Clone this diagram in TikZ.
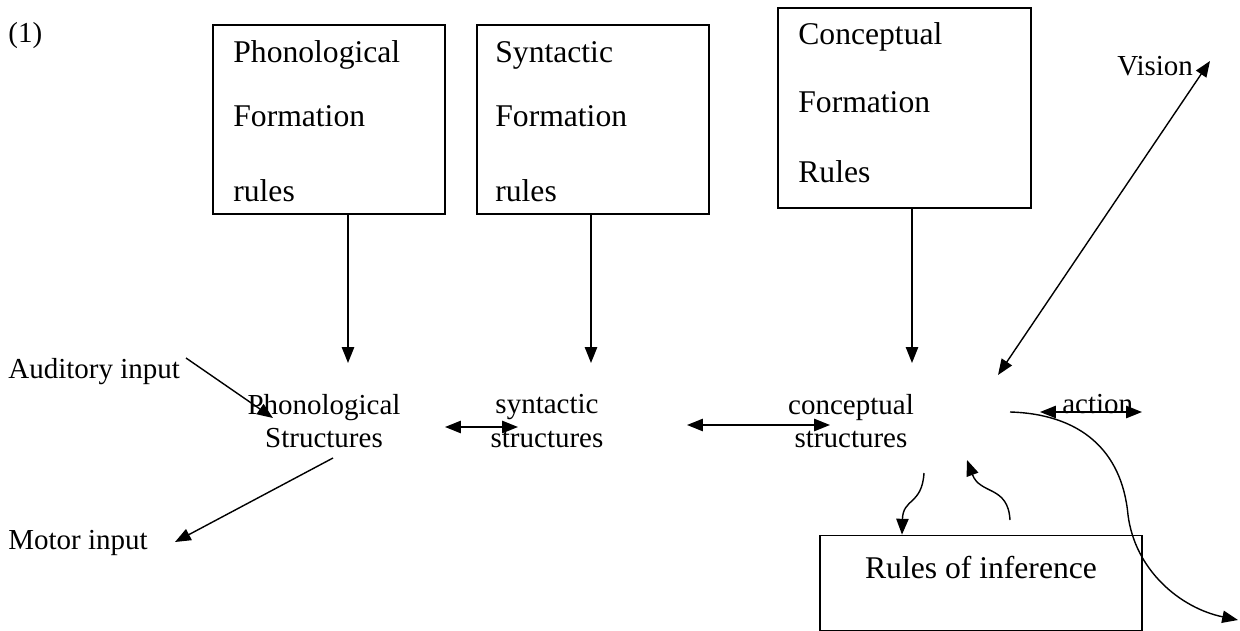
\documentclass[tikz,border=0pt]{standalone}
\usepackage{fontspec}
\setmainfont{Liberation Serif}
\usetikzlibrary{arrows.meta}

\begin{document}
\begin{tikzpicture}[x=0.02cm,y=-0.02cm]
  \tikzstyle{lbl}=[inner sep=0pt,font=\fontsize{16.5}{19}\selectfont]
  \tikzstyle{big}=[inner sep=0pt,font=\fontsize{18}{21}\selectfont]
  \tikzstyle{box}=[draw,line width=1pt,inner sep=0pt]
  \tikzstyle{arr}=[line width=0.8pt,-{Triangle[length=9pt,width=7pt]}]
  \tikzstyle{darr}=[line width=0.8pt,{Triangle[length=9pt,width=7pt]}-{Triangle[length=9pt,width=7pt]}]
  \useasboundingbox (0,0) rectangle (1240,631);

  \node[lbl,anchor=mid west] (num) at (8,38) {(1)};

  % formation rule boxes
  \foreach \name/\x/\y/\w/\h in {pfr/212/24/4.64/3.78, sfr/476/24/4.64/3.78, cfr/777/7/5.06/4.0}
    \node[box,anchor=north west,minimum width=\w cm,minimum height=\h cm] (\name) at (\x,\y) {};
  \foreach \txt/\x/\y [count=\i] in {Phonological/233/58, Formation/233/122, rules/233/197,
                                     Syntactic/495/58, Formation/495/122, rules/495/197,
                                     Conceptual/798/40, Formation/798/108, Rules/798/178}
    \node[big,anchor=mid west] (t-\i) at (\x,\y) {\txt};

  % structures
  \node[lbl,align=center] (phon) at (324,421) {Phonological\\Structures};
  \node[lbl,align=center] (syn) at (547,421) {syntactic\\structures};
  \node[lbl,align=center] (con) at (851,421) {conceptual\\structures};

  \node[lbl,anchor=mid west] (aud) at (8,374) {Auditory input};
  \node[lbl,anchor=mid west] (mot) at (8,545) {Motor input};
  \node[lbl,anchor=mid west] (vis) at (1117,71) {Vision};
  \node[lbl,anchor=mid west] (act) at (1062,409) {action};
  \node[box,minimum width=6.44cm,minimum height=1.9cm] (inf) at (981,583) {};
  \node[big] (inf-t) at (981,568) {Rules of inference};

  % free ends
  \coordinate (p1) at (348,363);
  \coordinate (p2) at (591,363);
  \coordinate (p3) at (912,363);
  \coordinate (a1) at (186,358);
  \coordinate (a2) at (273,418);
  \coordinate (m1) at (333,458);
  \coordinate (m2) at (175,542);
  \coordinate (ps1) at (445,427);
  \coordinate (ps2) at (518,427);
  \coordinate (sc1) at (687,425);
  \coordinate (sc2) at (830,425);
  \coordinate (v1) at (998,375);
  \coordinate (v2) at (1210,61);
  \coordinate (ac1) at (1040,412);
  \coordinate (ac2) at (1142,412);
  \coordinate (o1) at (1010,412);
  \coordinate (o2) at (1128,515);
  \coordinate (o3) at (1238,620);
  \coordinate (d1) at (924,473);
  \coordinate (d2) at (902,536);
  \coordinate (u1) at (1010,520);
  \coordinate (u2) at (967,460);

  \foreach \src/\tip in {pfr/p1, sfr/p2, cfr/p3}
    \draw[arr] (\src.south -| \tip) -- (\tip);

  \draw[arr] (a1) -- (a2);
  \draw[arr] (m1) -- (m2);
  \draw[darr] (ps1) -- (ps2);
  \draw[darr] (sc1) -- (sc2);
  \draw[darr] (v1) -- (v2);
  \draw[darr] (ac1) -- (ac2);
  \draw[arr] (o1) .. controls (1080,414) and (1122,450) .. (o2)
                  .. controls (1135,570) and (1180,608) .. (o3);
  \draw[arr] (d1) .. controls (922,505) and (903,498) .. (inf.north -| d2);
  \draw[arr] (u1) .. controls (1008,485) and (980,495) .. (u2);
\end{tikzpicture}
\end{document}
